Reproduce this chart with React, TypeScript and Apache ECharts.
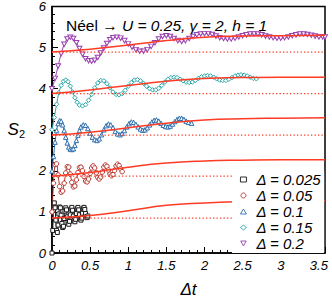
import React, { useEffect, useRef } from 'react';
import * as echarts from 'echarts';

const FONT = '"Liberation Sans", Arial, Helvetica, sans-serif';

const seriesNames = ['Δ = 0.025', 'Δ = 0.05', 'Δ = 0.1', 'Δ = 0.15', 'Δ = 0.2'];
const seriesColors = ['#1a1a1a', '#b5332a', '#2f6fae', '#2aa8a8', '#9a3fb0'];
const seriesSymbols = ['rect', 'circle', 'triangle', 'diamond', 'path://M0,0L10,0L5,9Z'];

const xTicks = [0, 0.5, 1, 1.5, 2, 2.5, 3, 3.5];
const yTicks = [0, 1, 2, 3, 4, 5, 6];

// Δ = 0.025
const d025: [number, number][] = [
  [0.00, 0.00], [0.01, 0.55], [0.02, 1.05], [0.03, 1.22], [0.04, 1.10], [0.05, 0.80], [0.06, 0.55],
  [0.07, 0.50], [0.08, 0.68], [0.09, 0.95], [0.10, 1.12], [0.11, 1.10], [0.12, 0.92], [0.13, 0.72],
  [0.14, 0.62], [0.15, 0.65], [0.16, 0.84], [0.17, 1.02], [0.18, 1.10], [0.19, 1.05], [0.20, 0.88],
  [0.21, 0.74], [0.22, 0.70], [0.23, 0.77], [0.24, 0.93], [0.25, 1.07], [0.26, 1.11], [0.27, 1.04],
  [0.28, 0.90], [0.29, 0.79], [0.30, 0.76], [0.31, 0.82], [0.32, 0.96], [0.33, 1.08], [0.34, 1.11],
  [0.35, 1.05], [0.36, 0.93], [0.37, 0.83], [0.38, 0.80], [0.39, 0.85], [0.40, 0.97], [0.41, 1.08],
  [0.42, 1.11], [0.43, 1.06], [0.44, 0.96], [0.45, 0.88], [0.46, 0.86], [0.47, 0.90],
];

// Δ = 0.05
const d05: [number, number][] = [
  [0.00, 1.00], [0.02, 1.70], [0.04, 2.15], [0.06, 2.17], [0.08, 1.90], [0.10, 1.62], [0.12, 1.48],
  [0.14, 1.51], [0.16, 1.70], [0.18, 1.95], [0.20, 2.10], [0.22, 2.09], [0.24, 1.92], [0.26, 1.72],
  [0.28, 1.61], [0.30, 1.63], [0.32, 1.78], [0.34, 1.96], [0.36, 2.08], [0.38, 2.09], [0.40, 2.00],
  [0.42, 1.86], [0.44, 1.75], [0.46, 1.73], [0.48, 1.80], [0.50, 1.94], [0.52, 2.07], [0.54, 2.12],
  [0.56, 2.07], [0.58, 1.95], [0.60, 1.84], [0.62, 1.80], [0.64, 1.85], [0.66, 1.97], [0.68, 2.09],
  [0.70, 2.14], [0.72, 2.11], [0.74, 2.02], [0.76, 1.92], [0.78, 1.88], [0.80, 1.91], [0.82, 2.01],
  [0.84, 2.12], [0.86, 2.16], [0.88, 2.13], [0.90, 2.05], [0.92, 1.98],
];

// Δ = 0.1
const d10: [number, number][] = [
  [0.00, 2.00], [0.02, 2.35], [0.04, 2.70], [0.06, 2.98], [0.08, 3.15], [0.10, 3.22], [0.12, 3.21],
  [0.14, 3.12], [0.16, 2.98], [0.18, 2.82], [0.20, 2.68], [0.22, 2.58], [0.24, 2.53], [0.26, 2.52],
  [0.28, 2.54], [0.30, 2.62], [0.32, 2.74], [0.34, 2.87], [0.36, 2.98], [0.38, 3.07], [0.41, 3.12],
  [0.44, 3.11], [0.47, 3.03], [0.50, 2.92], [0.53, 2.82], [0.56, 2.76], [0.59, 2.74], [0.62, 2.78],
  [0.65, 2.88], [0.68, 3.00], [0.71, 3.10], [0.74, 3.14], [0.77, 3.12], [0.80, 3.05], [0.83, 2.96],
  [0.86, 2.90], [0.89, 2.88], [0.92, 2.91], [0.95, 2.98], [0.98, 3.07], [1.01, 3.15], [1.04, 3.19],
  [1.07, 3.18], [1.10, 3.13], [1.13, 3.07], [1.16, 3.02], [1.19, 2.99], [1.22, 3.00], [1.25, 3.05],
  [1.28, 3.12], [1.31, 3.19], [1.34, 3.23], [1.37, 3.24], [1.40, 3.21], [1.43, 3.16], [1.46, 3.11],
  [1.49, 3.08], [1.52, 3.07], [1.55, 3.09], [1.58, 3.14], [1.61, 3.20], [1.64, 3.25], [1.67, 3.28],
  [1.70, 3.28], [1.73, 3.25], [1.76, 3.21], [1.79, 3.18], [1.83, 3.16],
];

// Δ = 0.15
const d15: [number, number][] = [
  [0.00, 3.00], [0.03, 3.30], [0.06, 3.62], [0.09, 3.90], [0.12, 4.08], [0.15, 4.18], [0.18, 4.21],
  [0.21, 4.17], [0.24, 4.06], [0.27, 3.92], [0.30, 3.78], [0.33, 3.67], [0.36, 3.60], [0.40, 3.58],
  [0.44, 3.61], [0.48, 3.72], [0.52, 3.86], [0.56, 4.02], [0.60, 4.14], [0.64, 4.20], [0.68, 4.19],
  [0.72, 4.12], [0.76, 4.02], [0.80, 3.92], [0.84, 3.86], [0.88, 3.85], [0.92, 3.88], [0.96, 3.96],
  [1.00, 4.06], [1.04, 4.15], [1.08, 4.21], [1.12, 4.22], [1.16, 4.19], [1.20, 4.13], [1.24, 4.06],
  [1.28, 4.00], [1.32, 3.97], [1.36, 3.97], [1.40, 4.01], [1.44, 4.08], [1.48, 4.16], [1.52, 4.23],
  [1.56, 4.27], [1.60, 4.28], [1.64, 4.27], [1.68, 4.23], [1.72, 4.19], [1.76, 4.16], [1.80, 4.15],
  [1.84, 4.16], [1.88, 4.20], [1.92, 4.25], [1.96, 4.29], [2.00, 4.31], [2.04, 4.32], [2.08, 4.31],
  [2.12, 4.28], [2.16, 4.24], [2.20, 4.21], [2.24, 4.20], [2.28, 4.20], [2.32, 4.23], [2.36, 4.27],
  [2.40, 4.31], [2.44, 4.33], [2.48, 4.34], [2.52, 4.33], [2.56, 4.31], [2.60, 4.28], [2.64, 4.25],
  [2.68, 4.24],
];

// Δ = 0.2
const d20: [number, number][] = [
  [0.00, 4.00], [0.04, 4.25], [0.08, 4.55], [0.12, 4.85], [0.16, 5.08], [0.20, 5.21], [0.24, 5.25],
  [0.28, 5.22], [0.32, 5.12], [0.36, 4.98], [0.40, 4.84], [0.44, 4.73], [0.48, 4.68], [0.52, 4.67],
  [0.56, 4.69], [0.60, 4.76], [0.64, 4.87], [0.68, 4.99], [0.72, 5.10], [0.76, 5.19], [0.80, 5.24],
  [0.85, 5.25], [0.90, 5.23], [0.95, 5.17], [1.00, 5.09], [1.05, 5.01], [1.10, 4.95], [1.15, 4.91],
  [1.20, 4.91], [1.25, 4.95], [1.30, 5.03], [1.35, 5.12], [1.40, 5.21], [1.45, 5.27], [1.50, 5.29],
  [1.55, 5.27], [1.60, 5.22], [1.65, 5.17], [1.70, 5.15], [1.75, 5.17], [1.80, 5.22], [1.85, 5.27],
  [1.90, 5.31], [1.95, 5.33], [2.00, 5.34], [2.05, 5.34], [2.10, 5.32], [2.15, 5.28], [2.20, 5.24],
  [2.25, 5.22], [2.30, 5.21], [2.35, 5.21], [2.40, 5.23], [2.45, 5.26], [2.50, 5.29], [2.55, 5.31],
  [2.60, 5.33], [2.65, 5.33], [2.70, 5.33], [2.75, 5.31], [2.80, 5.28], [2.85, 5.26], [2.90, 5.24],
  [2.95, 5.23], [3.00, 5.23], [3.05, 5.24], [3.10, 5.26], [3.15, 5.29], [3.20, 5.31], [3.25, 5.33],
  [3.30, 5.33], [3.35, 5.32], [3.40, 5.30], [3.45, 5.28], [3.50, 5.26], [3.55, 5.26], [3.58, 5.26],
];

// red fit curves
const fit025: [number, number][] = [[0, 0.85], [0.5, 0.91], [1.0, 1.03], [1.5, 1.16], [2.0, 1.22], [2.4, 1.25], [3.0, 1.27], [3.58, 1.28]];
const fit05: [number, number][] = [[0, 1.87], [0.5, 1.96], [1.0, 2.09], [1.5, 2.19], [2.0, 2.24], [2.5, 2.26], [3.0, 2.27], [3.58, 2.27]];
const fit10: [number, number][] = [[0, 2.87], [0.5, 2.94], [1.0, 3.05], [1.5, 3.16], [2.0, 3.24], [2.5, 3.27], [3.0, 3.28], [3.58, 3.29]];
const fit15: [number, number][] = [[0, 3.88], [0.5, 3.97], [1.0, 4.08], [1.5, 4.18], [2.0, 4.25], [2.5, 4.27], [3.0, 4.28], [3.58, 4.28]];
const fit20: [number, number][] = [[0, 4.89], [0.5, 4.96], [1.0, 5.06], [1.5, 5.17], [2.0, 5.25], [2.5, 5.28], [3.0, 5.29], [3.58, 5.30]];

// dotted baseline levels
const baselineLevels = [0.85, 1.87, 2.87, 3.88, 4.89];
const tEnd = 3.58;

const dataSets = [d025, d05, d10, d15, d20];
const fitSets = [fit025, fit05, fit10, fit15, fit20];

const FIT_COLOR = '#ff3b24';

export default function App() {
  const ref = useRef<HTMLDivElement>(null);
  useEffect(() => {
    if (!ref.current) return;
    const chart = echarts.init(ref.current, null, { renderer: 'svg' });
    const series: any[] = [];
    dataSets.forEach((d, i) => {
      series.push({
        name: seriesNames[i],
        type: 'line',
        data: d,
        smooth: 0.3,
        symbol: seriesSymbols[i],
        symbolSize: i === 0 ? 4 : i === 4 ? [5, 4.5] : 4.5,
        showAllSymbol: true,
        lineStyle: { color: seriesColors[i], width: 1 },
        itemStyle: { color: '#fff', borderColor: seriesColors[i], borderWidth: 1 },
        z: 2,
      });
    });
    baselineLevels.forEach((v) => {
      series.push({
        type: 'line',
        data: [[0, v], [tEnd, v]],
        symbol: 'none',
        lineStyle: { color: FIT_COLOR, width: 1.3, type: [1.3, 2.2] },
        z: 3,
        silent: true,
      });
    });
    fitSets.forEach((f) => {
      series.push({
        type: 'line',
        data: f,
        smooth: 0.5,
        symbol: 'none',
        lineStyle: { color: FIT_COLOR, width: 1.5 },
        z: 3,
        silent: true,
      });
    });

    chart.setOption({
      animation: false,
      backgroundColor: '#fff',
      title: {
        text: '{n|Néel → }{i|U = 0.25, γ = 2, h = 1}',
        left: 66,
        top: 17,
        padding: 0,
        textStyle: {
          fontWeight: 'normal',
          rich: {
            n: { fontSize: 15.5, fontFamily: FONT, fontWeight: 'normal', color: '#000' },
            i: { fontSize: 15.5, fontFamily: FONT, fontWeight: 'normal', fontStyle: 'italic', color: '#000' },
          },
        },
      },
      legend: {
        orient: 'vertical',
        left: 232,
        top: 171,
        padding: [1, 3, 2, 8],
        backgroundColor: '#fff',
        itemWidth: 6,
        itemHeight: 5,
        itemGap: 1,
        symbolKeepAspect: true,
        data: seriesNames.map((n, i) => ({ name: n, icon: seriesSymbols[i] })),
        itemStyle: { borderWidth: 0.9 },
        textStyle: {
          fontSize: 15,
          fontStyle: 'italic',
          fontFamily: FONT,
          color: '#000',
          lineHeight: 15,
          padding: [0, 0, 0, 5],
        },
        z: 10,
      },
      grid: {
        left: 52,
        right: 7,
        top: 6,
        bottom: 54,
        show: true,
        borderColor: '#000',
        borderWidth: 1.5,
        backgroundColor: 'transparent',
      },
      xAxis: {
        type: 'value',
        min: 0,
        max: tEnd,
        interval: 0.5,
        name: 'Δt',
        nameLocation: 'middle',
        nameGap: 28,
        nameTextStyle: { fontSize: 17, fontStyle: 'italic', fontFamily: FONT, color: '#000' },
        axisLine: { show: true, lineStyle: { color: '#000', width: 1.5 } },
        axisTick: { show: true, inside: true, length: 6, lineStyle: { color: '#000', width: 1 } },
        minorTick: { show: true, splitNumber: 5, length: 3, lineStyle: { color: '#000', width: 1 } },
        splitLine: { show: false },
        axisLabel: {
          margin: 6,
          fontSize: 13,
          fontStyle: 'italic',
          fontFamily: FONT,
          color: '#000',
          showMaxLabel: false,
          formatter: (v: number) => (xTicks.includes(v) ? String(v) : ''),
        },
      },
      yAxis: {
        type: 'value',
        min: 0,
        max: 6,
        interval: 1,
        name: '{s|S}{b|2}',
        nameLocation: 'middle',
        nameRotate: 0,
        nameGap: 27,
        nameTextStyle: {
          rich: {
            s: { fontSize: 17, fontStyle: 'italic', fontFamily: FONT, color: '#000', lineHeight: 20 },
            b: { fontSize: 11, fontFamily: FONT, color: '#000', lineHeight: 20, padding: [9, 0, 0, 0] },
          },
        },
        axisLine: { show: true, lineStyle: { color: '#000', width: 1.5 } },
        axisTick: { show: true, inside: true, length: 6, lineStyle: { color: '#000', width: 1 } },
        minorTick: { show: true, splitNumber: 5, length: 3, lineStyle: { color: '#000', width: 1 } },
        splitLine: { show: false },
        axisLabel: {
          margin: 6,
          fontSize: 13,
          fontStyle: 'italic',
          fontFamily: FONT,
          color: '#000',
          formatter: (v: number) => (yTicks.includes(v) ? String(v) : ''),
        },
      },
      series,
    });
    return () => chart.dispose();
  }, []);
  return <div ref={ref} style={{ width: 332, height: 307, position: 'absolute', left: 0, top: 0 }} />;
}
